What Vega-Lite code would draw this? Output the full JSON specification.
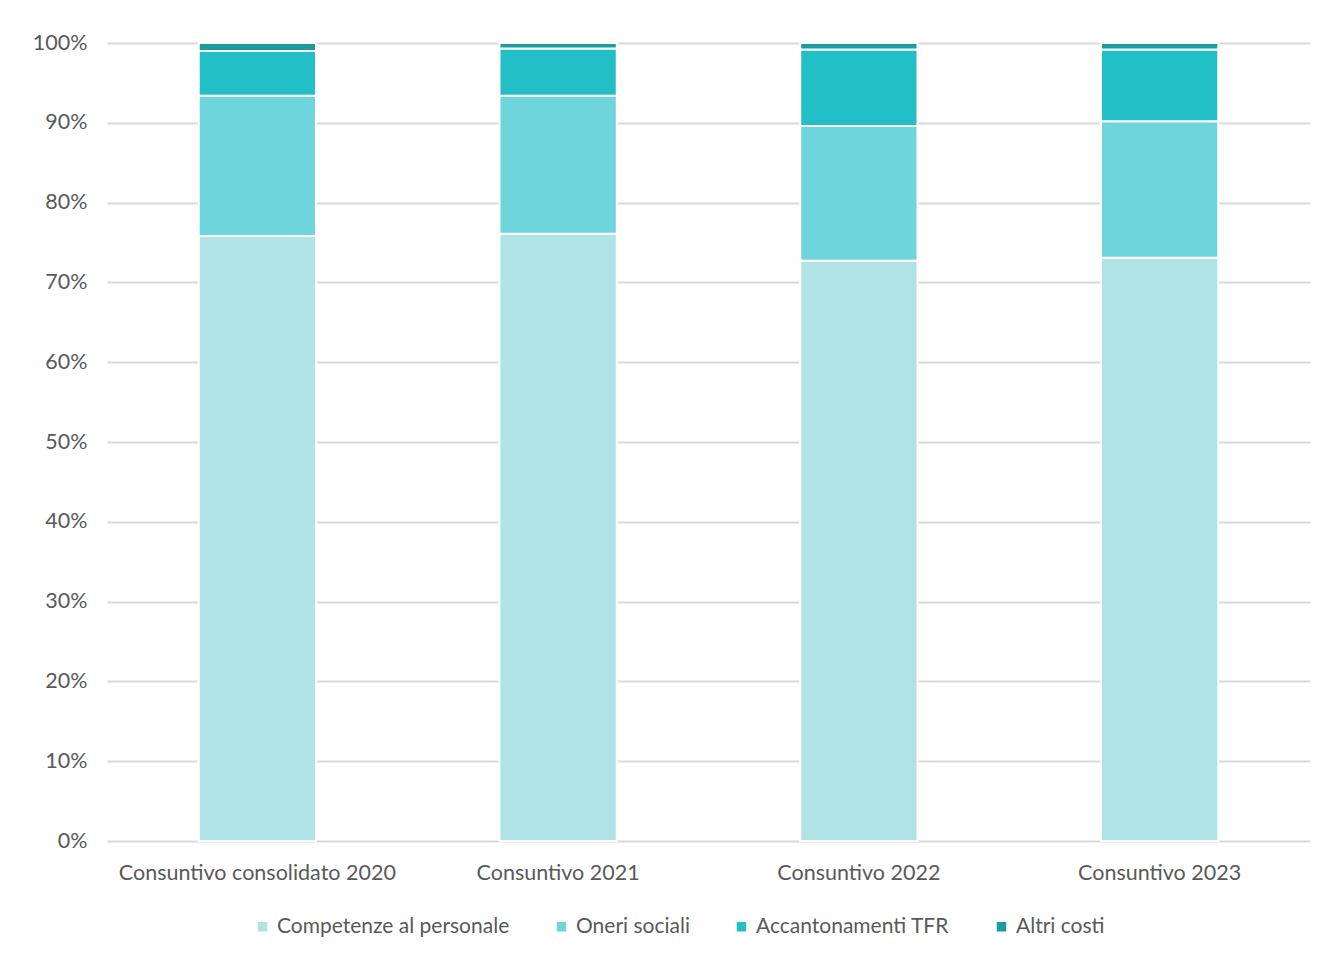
{
  "$schema": "https://vega.github.io/schema/vega-lite/v6.json",
  "autosize": {"type": "none"},
  "width": 1203,
  "height": 798,
  "padding": {"left": 107, "top": 43, "right": 7, "bottom": 116},
  "background": "white",
  "config": {
    "font": "Lato",
    "view": {"stroke": null},
    "axis": {"labelFont": "Lato", "labelColor": "#595959", "labelFontSize": 21.5, "ticks": false, "domain": false, "title": null, "labelOverlap": false, "labelLimit": 0}
  },
  "data": {
    "values": [
      {"periodo": "Consuntivo consolidato 2020", "voce": "Competenze al personale", "ord": 1, "quota": 75.8},
      {"periodo": "Consuntivo consolidato 2020", "voce": "Oneri sociali", "ord": 2, "quota": 17.6},
      {"periodo": "Consuntivo consolidato 2020", "voce": "Accantonamenti TFR", "ord": 3, "quota": 5.6},
      {"periodo": "Consuntivo consolidato 2020", "voce": "Altri costi", "ord": 4, "quota": 1.0},
      {"periodo": "Consuntivo 2021", "voce": "Competenze al personale", "ord": 1, "quota": 76.1},
      {"periodo": "Consuntivo 2021", "voce": "Oneri sociali", "ord": 2, "quota": 17.3},
      {"periodo": "Consuntivo 2021", "voce": "Accantonamenti TFR", "ord": 3, "quota": 5.9},
      {"periodo": "Consuntivo 2021", "voce": "Altri costi", "ord": 4, "quota": 0.7},
      {"periodo": "Consuntivo 2022", "voce": "Competenze al personale", "ord": 1, "quota": 72.7},
      {"periodo": "Consuntivo 2022", "voce": "Oneri sociali", "ord": 2, "quota": 16.9},
      {"periodo": "Consuntivo 2022", "voce": "Accantonamenti TFR", "ord": 3, "quota": 9.6},
      {"periodo": "Consuntivo 2022", "voce": "Altri costi", "ord": 4, "quota": 0.8},
      {"periodo": "Consuntivo 2023", "voce": "Competenze al personale", "ord": 1, "quota": 73.1},
      {"periodo": "Consuntivo 2023", "voce": "Oneri sociali", "ord": 2, "quota": 17.1},
      {"periodo": "Consuntivo 2023", "voce": "Accantonamenti TFR", "ord": 3, "quota": 9.0},
      {"periodo": "Consuntivo 2023", "voce": "Altri costi", "ord": 4, "quota": 0.8}
    ]
  },
  "mark": {"type": "bar", "stroke": "white", "strokeWidth": 2},
  "encoding": {
    "x": {
      "field": "periodo", "type": "nominal", "sort": null,
      "scale": {"paddingInner": 0.61, "paddingOuter": 0.305},
      "axis": {"labelAngle": 0, "labelPadding": 21, "grid": false}
    },
    "y": {
      "field": "quota", "type": "quantitative", "stack": "normalize",
      "scale": {"domain": [0, 1]},
      "axis": {"format": ".0%", "values": [0,0.1,0.2,0.3,0.4,0.5,0.6,0.7,0.8,0.9,1], "gridColor": "#d9d9d9", "gridWidth": 2, "labelPadding": 20}
    },
    "color": {
      "field": "voce", "type": "nominal",
      "scale": {
        "domain": ["Competenze al personale", "Oneri sociali", "Accantonamenti TFR", "Altri costi"],
        "range": ["#b0e3e6", "#6fd5dd", "#22bfc6", "#1a9ca1"]
      },
      "legend": {
        "orient": "none", "legendX": 145, "legendY": 873, "direction": "horizontal", "title": null,
        "symbolType": "square", "symbolSize": 90, "symbolStrokeWidth": 0,
        "labelFont": "Lato", "labelFontSize": 21, "labelColor": "#595959",
        "columnPadding": 41, "labelLimit": 400
      }
    },
    "order": {"field": "ord", "type": "quantitative"}
  }
}
